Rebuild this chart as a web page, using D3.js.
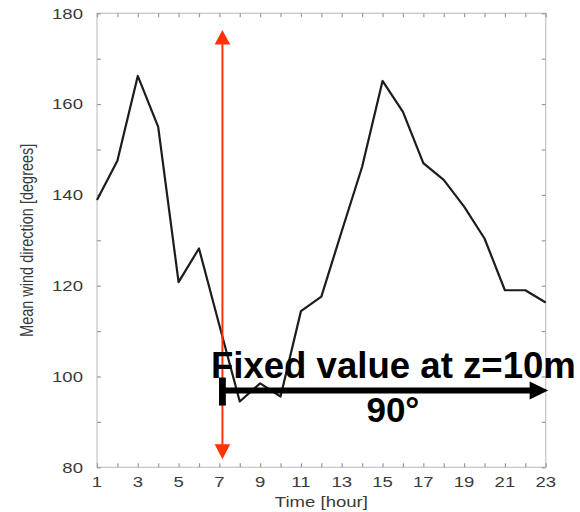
<!DOCTYPE html>
<html>
<head>
<meta charset="utf-8">
<script src="https://cdn.jsdelivr.net/npm/d3@7"></script>
<style>
  body { margin: 0; background: #fff; }
  svg { display: block; }
</style>
</head>
<body>
<div id="chart"></div>
<script>
// data
var hours = [1, 2, 3, 4, 5, 6, 7, 8, 9, 10, 11, 12, 13, 14, 15, 16, 17, 18, 19, 20, 21, 22, 23]
var direction = [138.9, 147.5, 166.2, 155, 120.8, 128.2, 111.3, 94.5, 98.5, 95.6, 114.4, 117.6,
                 132, 146.2, 165.1, 158.3, 147, 143.3, 137.4, 130.4, 119, 119, 116.3]
var xTickLabels = [1, 3, 5, 7, 9, 11, 13, 15, 17, 19, 21, 23]
var yTickLabels = [80, 100, 120, 140, 160, 180]
var yMinorTicks = [80, 90, 100, 110, 120, 130, 140, 150, 160, 170, 180]

// annotation (in data units)
var markerHour = 7.15
var markerTop = 176.3, markerBottom = 81.8
var fixedLevel = 96.9, fixedEndHour = 23.12
var fixedText = "Fixed value at z=10m"
var angleText = "90°"

var margin = { top: 13.3, right: 34.3, bottom: 44.7, left: 97 },
    width = 580 - margin.left - margin.right,
    height = 512 - margin.top - margin.bottom;

var sx = 1.28 // the source picture is stretched horizontally

var svg = d3.select("#chart")
    .append("svg")
    .attr("width", 580)
    .attr("height", 512)
    .append("g")
    .attr("transform", "translate(" + margin.left + "," + margin.top + ")");

var x = d3.scaleLinear().domain([1, 23]).range([0, width]);
var y = d3.scaleLinear().domain([80, 180]).range([height, 0]);

// frame
svg.append("rect")
    .attr("width", width).attr("height", height)
    .attr("fill", "none").attr("stroke", "#c8c8c8").attr("stroke-width", 1.3)

function styleAxis(g) {
    g.select(".domain").remove()
    g.selectAll("line").attr("stroke", "#999").attr("stroke-width", 1.2)
}

// ticks on all four sides, pointing inward
svg.append("g").attr("transform", "translate(0," + height + ")")
    .call(d3.axisBottom(x).tickValues(hours).tickSize(-4).tickFormat(""))
    .call(styleAxis)
svg.append("g")
    .call(d3.axisTop(x).tickValues(hours).tickSize(-4).tickFormat(""))
    .call(styleAxis)
svg.append("g")
    .call(d3.axisLeft(y).tickValues(yMinorTicks).tickSize(-4).tickFormat(""))
    .call(styleAxis)
svg.append("g").attr("transform", "translate(" + width + ",0)")
    .call(d3.axisRight(y).tickValues(yMinorTicks).tickSize(-4).tickFormat(""))
    .call(styleAxis)

// tick labels
var labelFont = "'Liberation Sans', Arial, sans-serif"
svg.append("g").selectAll("text")
    .data(xTickLabels).enter().append("text")
    .attr("transform", function (d) { return "translate(" + x(d) + "," + (height + 20) + ") scale(" + sx + ",1)" })
    .attr("text-anchor", "middle")
    .style("font-family", labelFont).style("font-size", "14.5px").attr("fill", "#3a3a3a")
    .text(function (d) { return d })

svg.append("g").selectAll("text")
    .data(yTickLabels).enter().append("text")
    .attr("transform", function (d) { return "translate(-14," + (y(d) + 5.2) + ") scale(" + sx + ",1)" })
    .attr("text-anchor", "end")
    .style("font-family", labelFont).style("font-size", "14.5px").attr("fill", "#3a3a3a")
    .text(function (d) { return d })

// axis titles
svg.append("text")
    .attr("transform", "translate(" + (width / 2) + "," + (height + 40) + ") scale(" + sx + ",1)")
    .attr("text-anchor", "middle")
    .style("font-family", labelFont).style("font-size", "14.5px").attr("fill", "#3a3a3a")
    .text("Time [hour]")

svg.append("text")
    .attr("transform", "translate(-64," + (height / 2) + ") scale(" + sx + ",1) rotate(-90)")
    .attr("text-anchor", "middle")
    .style("font-family", labelFont).style("font-size", "14.5px").attr("fill", "#3a3a3a")
    .text("Mean wind direction [degrees]")

// the series
var line = d3.line()
    .x(function (d, i) { return x(hours[i]) })
    .y(function (d) { return y(d) })

svg.append("path")
    .datum(direction)
    .attr("fill", "none")
    .attr("stroke", "#1c1c1c")
    .attr("stroke-width", 2.2)
    .attr("stroke-linejoin", "round")
    .attr("d", line)

// red double arrow
var red = "#ff3300"
var mx = x(markerHour)
svg.append("line")
    .attr("x1", mx).attr("x2", mx)
    .attr("y1", y(markerTop) + 10).attr("y2", y(markerBottom) - 10)
    .attr("stroke", red).attr("stroke-width", 2)
svg.append("path")
    .attr("d", "M" + mx + "," + y(markerTop) + "L" + (mx - 7.8) + "," + (y(markerTop) + 14.5) + "L" + (mx + 7.8) + "," + (y(markerTop) + 14.5) + "Z")
    .attr("fill", red)
svg.append("path")
    .attr("d", "M" + mx + "," + y(markerBottom) + "L" + (mx - 7.8) + "," + (y(markerBottom) - 15) + "L" + (mx + 7.8) + "," + (y(markerBottom) - 15) + "Z")
    .attr("fill", red)

// black fixed-value arrow
var fy = y(fixedLevel), fx = x(fixedEndHour)
svg.append("line")
    .attr("x1", mx).attr("x2", fx - 14)
    .attr("y1", fy).attr("y2", fy)
    .attr("stroke", "#000").attr("stroke-width", 6)
svg.append("rect")
    .attr("x", mx - 3.4).attr("y", fy - 13).attr("width", 6.8).attr("height", 28)
    .attr("fill", "#000")
svg.append("path")
    .attr("d", "M" + fx + "," + fy + "L" + (fx - 18.5) + "," + (fy - 9) + "L" + (fx - 18.5) + "," + (fy + 9) + "Z")
    .attr("fill", "#000")

svg.append("text")
    .attr("x", mx - 11.5).attr("y", fy - 12.4)
    .style("font-family", labelFont).style("font-size", "36.6px").style("font-weight", "bold")
    .attr("fill", "#000")
    .text(fixedText)

svg.append("text")
    .attr("x", mx + 144).attr("y", fy + 31.5)
    .style("font-family", labelFont).style("font-size", "35px").style("font-weight", "bold")
    .attr("fill", "#000")
    .text(angleText)
</script>
</body>
</html>
